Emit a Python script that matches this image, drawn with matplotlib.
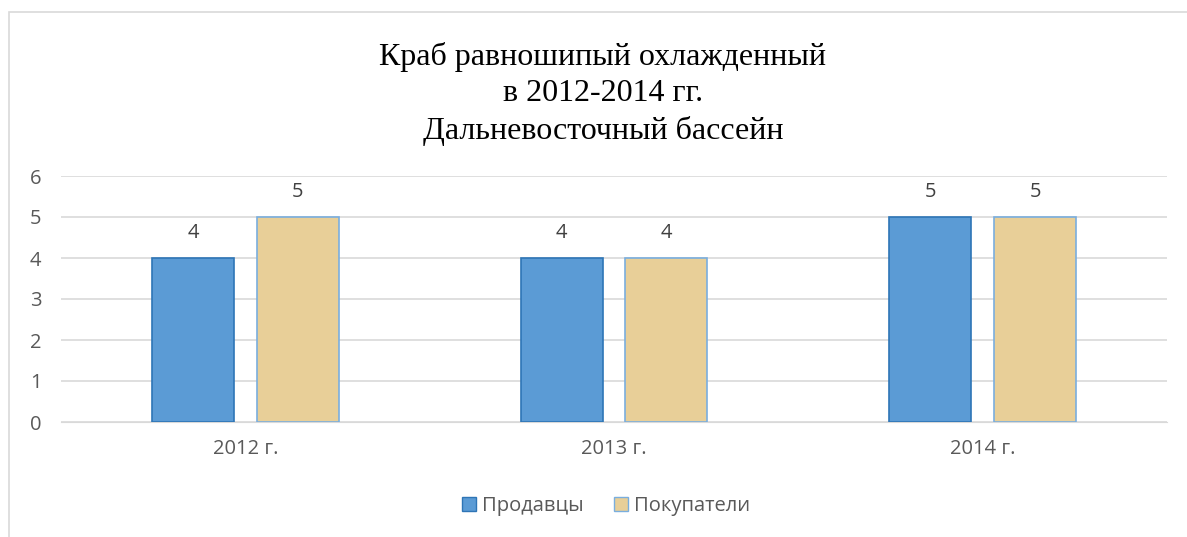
import matplotlib.pyplot as plt
import matplotlib.patches as mpatches
import numpy as np

years = ["2012 г.", "2013 г.", "2014 г."]
sellers = [4, 4, 5]
buyers = [5, 4, 5]
series_names = ["Продавцы", "Покупатели"]

W, H = 1187, 537
fig = plt.figure(figsize=(W / 100, H / 100), dpi=100)

# chart frame (cut off at right and bottom like the screenshot)
fig.patches.append(mpatches.Rectangle((9 / W, -0.1), 1.2, 1 - 12 / H + 0.1,
                                      transform=fig.transFigure, fill=False,
                                      edgecolor='#d9d9d9', linewidth=1.2))

ax = fig.add_axes([61 / W, 1 - 422 / H, (1167 - 61) / W, (422 - 176) / H])

x = np.arange(len(years))
bw = 0.222
off = 0.142
fs = 14.5
blue = ax.bar(x - off, sellers, bw, color='#5b9bd5', edgecolor='#2e75b6', linewidth=1.2, zorder=3)
beige = ax.bar(x + off, buyers, bw, color='#e8cf98', edgecolor='#7aaede', linewidth=1.2, zorder=3)

for bars in (blue, beige):
    for b in bars:
        ax.text(b.get_x() + b.get_width() / 2, b.get_height() + 0.6, str(int(b.get_height())),
                ha='center', va='center', fontsize=fs, color='#404040', family='Open Sans')

ax.set_xlim(-0.5, 2.5)
ax.set_ylim(0, 6)
ax.set_yticks(range(0, 7))
ax.set_xticks(x)
ax.set_xticklabels(years)
ax.yaxis.grid(True, color='#d9d9d9', linewidth=1.2, zorder=0)
ax.set_axisbelow(True)
for s in ax.spines.values():
    s.set_visible(False)
ax.tick_params(length=0, labelsize=fs, labelcolor='#595959', pad=14)
ax.tick_params(axis='x', pad=12)
for lab in ax.get_xticklabels() + ax.get_yticklabels():
    lab.set_family('Open Sans')
ax.spines['bottom'].set_visible(True)
ax.spines['bottom'].set_color('#d9d9d9')

fig.text(603 / W, 1 - 94 / H, "Краб равношипый охлажденный\nв 2012-2014 гг.\nДальневосточный бассейн",
         ha='center', va='center', fontsize=23, family='Liberation Serif', linespacing=1.32)

handles = [mpatches.Patch(facecolor='#5b9bd5', edgecolor='#2e75b6', label=series_names[0]),
           mpatches.Patch(facecolor='#e8cf98', edgecolor='#7aaede', label=series_names[1])]
fig.legend(handles=handles, loc='center', bbox_to_anchor=(606 / W, 1 - 506 / H), ncol=2,
           frameon=False, prop={'family': 'Open Sans', 'size': fs}, labelcolor='#595959',
           handlelength=0.7, handleheight=0.7, handletextpad=0.3, columnspacing=1.5)

fig.savefig('out.png', dpi=100)
